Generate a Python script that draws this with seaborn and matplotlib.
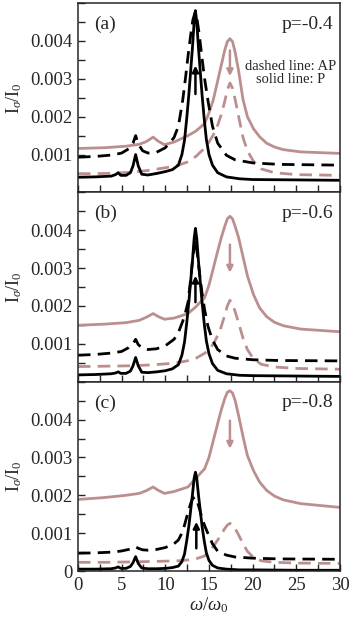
import numpy as np
import matplotlib
matplotlib.use("Agg")
import matplotlib.pyplot as plt
import seaborn as sns

# ---------------- data (values in units of 10^-3 I_sigma/I_0) ----------------
x_blk_P = [0, 2, 3.8, 4.3, 4.6, 4.9, 5.5, 6.0, 6.3, 6.6, 6.9, 7.3, 8.0, 9.0, 10.0, 10.8, 11.5,
           11.9, 12.2, 12.45, 12.7, 12.9, 13.1, 13.3, 13.45, 13.6, 13.8, 14.0, 14.2, 14.45,
           14.7, 15.0, 15.4, 16.0, 17.0, 18.5, 20, 25, 30]
x_blk_AP = [0, 2, 4, 5, 5.8, 6.3, 6.6, 6.9, 7.4, 8.0, 9.0, 10.0, 11.0, 11.5, 12.0, 12.3, 12.6,
            12.9, 13.15, 13.4, 13.65, 13.9, 14.2, 14.5, 14.9, 15.4, 16.0, 17.0, 18.0, 20, 23, 30]
x_brn_P = [0, 3, 5.5, 7.0, 7.8, 8.6, 9.2, 9.9, 11, 12.6, 13.5, 14.5, 15.0, 15.5, 16.0, 16.4,
           16.8, 17.1, 17.4, 17.7, 18.0, 18.4, 18.9, 19.4, 20.1, 20.8, 21.6, 22.5, 23.5, 25.5, 30]
x_brn_AP = [0, 3, 6, 8, 10, 11.5, 12.5, 13.5, 14.5, 15.0, 15.5, 16.0, 16.4, 16.8, 17.1, 17.4,
            17.7, 18.0, 18.4, 18.9, 19.4, 20.1, 21.0, 22.5, 25, 30]

# panel (a) p = -0.4
a_blk_P = [0.40, 0.41, 0.43, 0.47, 0.52, 0.45, 0.45, 0.52, 0.70, 1.00, 0.70, 0.48, 0.46, 0.50,
           0.55, 0.60, 0.72, 1.00, 1.38, 1.95, 2.60, 3.20, 3.80, 4.50, 4.80, 4.50, 3.80, 3.20,
           2.60, 1.95, 1.40, 1.00, 0.72, 0.52, 0.41, 0.36, 0.34, 0.33, 0.32]
a_blk_AP = [0.93, 0.95, 0.99, 1.04, 1.15, 1.30, 1.50, 1.28, 1.10, 1.04, 1.06, 1.18, 1.45, 1.75,
            2.45, 3.00, 3.60, 4.15, 4.55, 4.75, 4.55, 4.15, 3.55, 3.00, 2.40, 1.75, 1.30, 0.98,
            0.86, 0.78, 0.74, 0.72]
a_brn_P = [1.16, 1.18, 1.22, 1.27, 1.34, 1.46, 1.35, 1.26, 1.33, 1.50, 1.62, 1.82, 2.10, 2.45,
           2.95, 3.35, 3.75, 3.98, 4.06, 3.98, 3.70, 3.20, 2.45, 2.00, 1.68, 1.47, 1.30, 1.20,
           1.13, 1.07, 1.03]
a_brn_AP = [0.49, 0.50, 0.53, 0.58, 0.65, 0.72, 0.80, 0.95, 1.17, 1.33, 1.52, 1.78, 2.05, 2.40,
            2.70, 2.89, 2.75, 2.45, 2.00, 1.45, 1.10, 0.82, 0.62, 0.52, 0.47, 0.45]

# panel (b) p = -0.6
b_blk_P = [0.18, 0.19, 0.21, 0.23, 0.26, 0.22, 0.22, 0.28, 0.42, 0.64, 0.42, 0.25, 0.24, 0.26,
           0.29, 0.34, 0.45, 0.70, 1.05, 1.55, 2.12, 2.65, 3.17, 3.78, 4.05, 3.78, 3.17, 2.65,
           2.12, 1.55, 1.08, 0.74, 0.48, 0.30, 0.21, 0.17, 0.16, 0.15, 0.14]
b_blk_AP = [0.70, 0.72, 0.76, 0.80, 0.90, 1.00, 1.12, 0.98, 0.88, 0.85, 0.87, 0.95, 1.12, 1.30,
            1.60, 1.82, 2.10, 2.70, 3.30, 3.75, 3.40, 2.90, 2.35, 1.90, 1.45, 1.10, 0.85, 0.68,
            0.62, 0.58, 0.56, 0.55]
b_brn_P = [1.49, 1.52, 1.56, 1.62, 1.70, 1.80, 1.72, 1.65, 1.68, 1.80, 1.98, 2.22, 2.55, 3.00,
           3.45, 3.80, 4.10, 4.30, 4.37, 4.30, 4.10, 3.80, 3.30, 2.80, 2.30, 1.95, 1.72, 1.57,
           1.48, 1.39, 1.32]
b_brn_AP = [0.40, 0.41, 0.42, 0.44, 0.47, 0.51, 0.55, 0.62, 0.75, 0.85, 1.00, 1.22, 1.45, 1.75,
            2.00, 2.15, 2.05, 1.85, 1.55, 1.15, 0.85, 0.60, 0.46, 0.39, 0.35, 0.33]

# panel (c) p = -0.8
c_blk_P = [0.05, 0.05, 0.06, 0.08, 0.11, 0.07, 0.07, 0.12, 0.22, 0.38, 0.20, 0.08, 0.06, 0.06,
           0.07, 0.09, 0.13, 0.25, 0.45, 0.80, 1.20, 1.60, 2.00, 2.45, 2.61, 2.45, 2.00, 1.60,
           1.20, 0.80, 0.48, 0.28, 0.15, 0.08, 0.05, 0.03, 0.03, 0.02, 0.02]
c_blk_AP = [0.47, 0.48, 0.50, 0.53, 0.57, 0.61, 0.64, 0.60, 0.56, 0.55, 0.57, 0.62, 0.72, 0.82,
            1.05, 1.30, 1.55, 1.78, 1.92, 1.95, 1.85, 1.65, 1.40, 1.20, 0.98, 0.72, 0.52, 0.42,
            0.37, 0.34, 0.32, 0.31]
c_brn_P = [1.89, 1.94, 2.00, 2.05, 2.12, 2.22, 2.13, 2.05, 2.10, 2.22, 2.45, 2.70, 3.00, 3.45,
           3.90, 4.25, 4.55, 4.72, 4.76, 4.70, 4.50, 4.10, 3.55, 3.05, 2.65, 2.35, 2.13, 1.98,
           1.88, 1.78, 1.68]
c_brn_AP = [0.23, 0.23, 0.24, 0.25, 0.26, 0.27, 0.29, 0.32, 0.40, 0.50, 0.65, 0.82, 0.97, 1.12,
            1.21, 1.26, 1.22, 1.12, 0.95, 0.72, 0.52, 0.36, 0.27, 0.23, 0.21, 0.20]

scale = 1e-3  # values above are in units of 10^-3

panel_tags = ["(a)", "(b)", "(c)"]
p_labels = ["p=-0.4", "p=-0.6", "p=-0.8"]

# arrows: (x, y_from, y_to) in units of 10^-3
blk_arrows = [(13.45, 2.60, 3.35), (13.45, 2.10, 2.80), (13.55, 0.60, 1.30)]
brn_arrows = [(17.4, 3.75, 3.07), (17.4, 3.62, 2.88), (17.4, 3.97, 3.23)]

x_ticks = [0, 5, 10, 15, 20, 25, 30]
y_ticks = [0, 0.001, 0.002, 0.003, 0.004]
y_ticklabels = ["0", "0.001", "0.002", "0.003", "0.004"]

# ---------------- style ----------------
sns.set_style("ticks")
plt.rcParams["font.family"] = ["Liberation Serif", "DejaVu Serif"]
plt.rcParams["mathtext.fontset"] = "custom"
plt.rcParams["mathtext.rm"] = "Liberation Serif"
plt.rcParams["mathtext.it"] = "Liberation Serif:italic"

BLACK = "#000000"
BROWN = "#bc8f8f"
LW = 2.0
DASH = (0, (4.5, 2.6))

fig, axes = plt.subplots(3, 1, sharex=True, figsize=(3.53, 6.2), dpi=100,
                         gridspec_kw=dict(hspace=0))
fig.subplots_adjust(left=0.221, right=0.963, bottom=0.079, top=0.995)

panels = [
    (a_blk_P, a_blk_AP, a_brn_P, a_brn_AP),
    (b_blk_P, b_blk_AP, b_brn_P, b_brn_AP),
    (c_blk_P, c_blk_AP, c_brn_P, c_brn_AP),
]

for i, (ax, (bP, bAP, rP, rAP)) in enumerate(zip(axes, panels)):
    sns.lineplot(x=x_brn_P, y=np.array(rP) * scale, ax=ax, color=BROWN, lw=LW,
                 estimator=None, sort=False)
    sns.lineplot(x=x_brn_AP, y=np.array(rAP) * scale, ax=ax, color=BROWN, lw=LW,
                 linestyle=DASH, estimator=None, sort=False)
    sns.lineplot(x=x_blk_AP, y=np.array(bAP) * scale, ax=ax, color=BLACK, lw=LW,
                 linestyle=DASH, estimator=None, sort=False)
    sns.lineplot(x=x_blk_P, y=np.array(bP) * scale, ax=ax, color=BLACK, lw=LW,
                 estimator=None, sort=False)

    bx, by0, by1 = blk_arrows[i]
    ax.annotate("", xy=(bx, by1 * scale), xytext=(bx, by0 * scale),
                arrowprops=dict(arrowstyle="-|>", color=BLACK, lw=1.8,
                                mutation_scale=9, shrinkA=0, shrinkB=0))
    rx, ry0, ry1 = brn_arrows[i]
    ax.annotate("", xy=(rx, ry1 * scale), xytext=(rx, ry0 * scale),
                arrowprops=dict(arrowstyle="-|>", color=BROWN, lw=1.8,
                                mutation_scale=9, shrinkA=0, shrinkB=0))

    ax.set_xlim(0, 30)
    ax.set_ylim(0, 0.005)
    ax.set_xticks(x_ticks)
    ax.xaxis.set_minor_locator(matplotlib.ticker.MultipleLocator(2.5))
    if i < 2:
        ax.set_yticks(y_ticks[1:])
        ax.set_yticklabels(y_ticklabels[1:])
    else:
        ax.set_yticks(y_ticks)
        ax.set_yticklabels(y_ticklabels)
    ax.yaxis.set_minor_locator(matplotlib.ticker.MultipleLocator(0.0005))
    ax.tick_params(which="both", direction="in", length=5, width=1.0,
                   top=False, right=False, labelsize=13.5, pad=4)
    for s in ax.spines.values():
        s.set_linewidth(1.1)
        s.set_visible(True)
    ax.set_ylabel(r"I$_\sigma$/I$_0$", fontsize=13)
    ax.yaxis.set_label_coords(-0.205, 0.5)
    ax.text(0.063, 0.888, panel_tags[i], transform=ax.transAxes, fontsize=14,
            ha="left", va="center")
    ax.text(0.975, 0.888, p_labels[i], transform=ax.transAxes, fontsize=14,
            ha="right", va="center")
    ax.set_xlabel("")

axes[0].text(0.813, 0.632, "dashed line: AP\nsolid line: P", transform=axes[0].transAxes,
             fontsize=10.5, ha="center", va="center", multialignment="center", linespacing=1.0)
axes[2].set_xlabel(r"$\omega$/$\omega_0$", fontsize=13.5, labelpad=1)

fig.savefig("out.png", dpi=100)
